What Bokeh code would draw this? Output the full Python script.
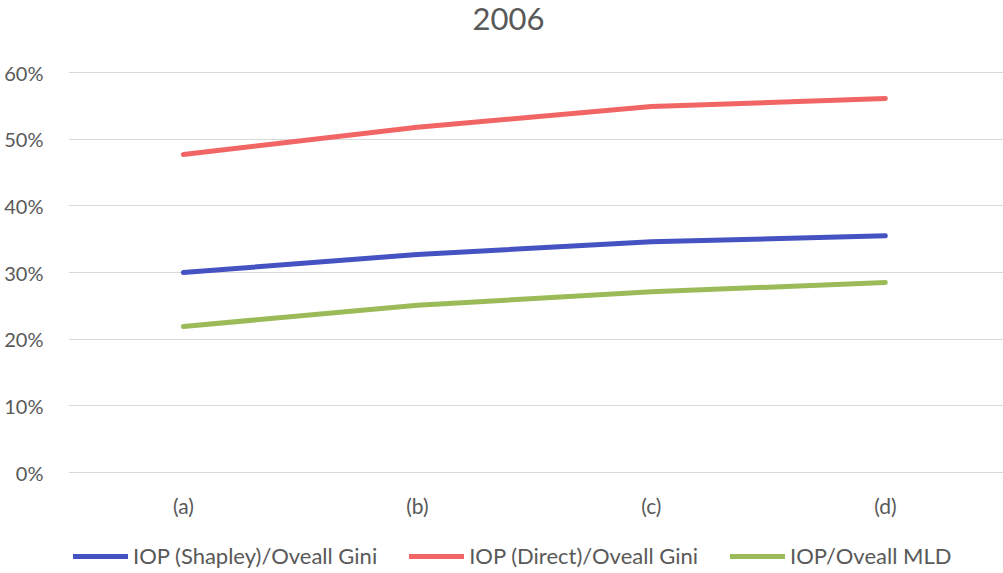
from bokeh.plotting import figure
from bokeh.models import FixedTicker, NumeralTickFormatter, Legend, LegendItem, Range1d, Label
from bokeh.layouts import column
from bokeh.embed import file_html
from bokeh.resources import INLINE

title_text = "2006"
categories = ["(a)", "(b)", "(c)", "(d)"]
shapley_gini = [0.300, 0.327, 0.346, 0.355]
direct_gini = [0.477, 0.518, 0.549, 0.561]
overall_mld = [0.219, 0.251, 0.271, 0.285]
y_ticks = [0, 0.1, 0.2, 0.3, 0.4, 0.5, 0.6]
series_names = ["IOP (Shapley)/Oveall Gini", "IOP (Direct)/Oveall Gini", "IOP/Oveall MLD"]
series_colors = ["#4452C2", "#F26565", "#9BBB59"]
series_values = [shapley_gini, direct_gini, overall_mld]

xs = list(range(len(categories)))
FONT = "Lato"
TXT = "#595959"
W = 1003


def bare(fig):
    fig.outline_line_color = None
    fig.axis.visible = False
    fig.grid.visible = False


# title strip (frame is aligned with the chart frame by the column layout)
t = figure(width=W, height=40, output_backend="svg", toolbar_location=None,
           x_range=Range1d(0, 1), y_range=Range1d(0, 1),
           min_border_left=0, min_border_right=0, min_border_top=0, min_border_bottom=0)
bare(t)
t.add_layout(Label(x=0.4706, y=0.5, y_offset=2, text=title_text, text_align="center",
                   text_baseline="middle", text_font=FONT, text_font_size="31px",
                   text_color=TXT))

# main chart
p = figure(width=W, height=490, output_backend="svg", toolbar_location=None,
           x_range=Range1d(-0.491, 3.505), y_range=Range1d(-0.015, 0.615),
           min_border_left=68, min_border_right=0, min_border_top=22, min_border_bottom=48)
p.outline_line_color = None

for vals, col in zip(series_values, series_colors):
    p.line(xs, vals, line_color=col, line_width=5, line_cap="round", line_join="round")

p.xaxis.ticker = FixedTicker(ticks=xs)
p.xaxis.major_label_overrides = {i: c for i, c in enumerate(categories)}
p.yaxis.ticker = FixedTicker(ticks=y_ticks)
p.yaxis.formatter = NumeralTickFormatter(format="0%")
for ax in (p.xaxis[0], p.yaxis[0]):
    ax.axis_line_color = None
    ax.major_tick_line_color = None
    ax.minor_tick_line_color = None
    ax.major_tick_out = 0
    ax.major_tick_in = 0
    ax.major_label_text_font = FONT
    ax.major_label_text_font_size = "20px"
    ax.major_label_text_color = TXT
p.xaxis.major_label_text_font_size = "21px"
p.xaxis.major_label_standoff = 10
p.yaxis.major_label_standoff = 25

p.xgrid.grid_line_color = None
p.ygrid.ticker = FixedTicker(ticks=y_ticks)
p.ygrid.grid_line_color = "#D9D9D9"
p.ygrid.grid_line_width = 1

# legend strip (series drawn out of view so only the legend shows)
q = figure(width=W, height=43, output_backend="svg", toolbar_location=None,
           x_range=Range1d(0, 1), y_range=Range1d(100, 101),
           min_border_left=0, min_border_right=0, min_border_top=0, min_border_bottom=0)
bare(q)
items = []
for name, vals, col in zip(series_names, series_values, series_colors):
    r = q.line(xs, vals, line_color=col, line_width=5, line_cap="round")
    items.append(LegendItem(label=name, renderers=[r]))
legend = Legend(items=items, orientation="horizontal", location=(5, 4))
legend.glyph_width = 55
legend.glyph_height = 20
legend.label_height = 20
legend.label_standoff = 5
legend.spacing = 32
legend.padding = 0
legend.margin = 0
legend.border_line_color = None
legend.background_fill_alpha = 0
legend.label_text_font = FONT
legend.label_text_font_size = "22px"
legend.label_text_color = TXT
q.add_layout(legend, "center")

layout = column(t, p, q, spacing=0)
open("out.html", "w").write(file_html(layout, INLINE))
